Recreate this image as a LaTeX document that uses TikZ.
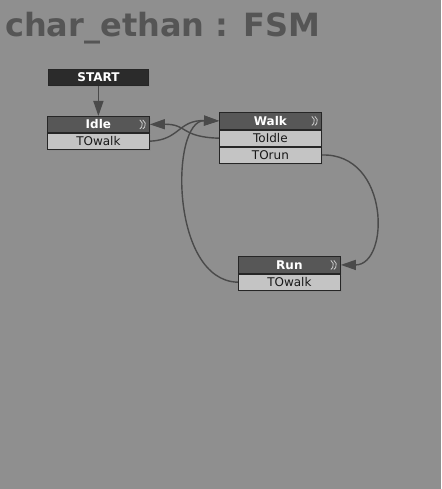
\documentclass[tikz,border=0pt]{standalone}
\usepackage{fontspec}
\setmainfont{DejaVu Sans}
\usetikzlibrary{arrows.meta,positioning,shadows}
\definecolor{bggray}{HTML}{8F8F8F}
\definecolor{titlegray}{HTML}{555555}
\definecolor{hdgray}{HTML}{575757}
\definecolor{rowgray}{HTML}{C4C4C4}
\definecolor{startgray}{HTML}{2B2B2B}
\definecolor{linkgray}{HTML}{4A4A4A}
\begin{document}
\begin{tikzpicture}[x=1pt,y=-1pt,
    box/.style={draw=black!85,line width=0.8pt,minimum width=102pt,inner sep=0pt,
      font=\fontsize{12}{12}\selectfont,
      drop shadow={opacity=0.25,shadow xshift=1.5pt,shadow yshift=-2pt}},
    head/.style={box,fill=hdgray,text=white,minimum height=17pt,font=\fontsize{12}{12}\selectfont\bfseries},
    row/.style={box,fill=rowgray,text=black!90,minimum height=16pt,below=0pt of #1},
    startbox/.style={box,fill=startgray,text=white,minimum width=100pt,minimum height=16pt,
      font=\fontsize{12}{12}\selectfont\bfseries},
    link/.style={draw=linkgray,line width=1.4pt,-{Triangle[length=15pt,width=10pt]}}]
  % background and bounds
  \fill[bggray] (0,0) rectangle (441,489);
  \useasboundingbox (0,0) rectangle (441,489);
  \node[anchor=base west,text=titlegray,inner sep=0pt,
    font=\fontsize{32}{32}\selectfont\bfseries] (title) at (5,37) {char\_ethan : FSM};
  % states
  \node[startbox,anchor=north west] (start) at (48,69) {START};
  \node[head,anchor=north west,minimum height=16pt] (idle) at (47,116) {Idle};
  \node[row=idle] (idle-walk) {TOwalk};
  \node[head,anchor=north west] (walk) at (219,112) {Walk};
  \node[row=walk] (walk-idle) {ToIdle};
  \node[row=walk-idle] (walk-run) {TOrun};
  \node[head,anchor=north west] (run) at (238,256) {Run};
  \node[row=run] (run-walk) {TOwalk};
  % the small marks at the right of each title bar
  \foreach \n in {idle,walk,run}{
    \draw[black!20,line width=0.8pt] ([xshift=-10pt,yshift=4.5pt]\n.east) arc[start angle=60,end angle=-60,radius=5.2pt];
    \draw[black!20,line width=0.8pt] ([xshift=-7pt,yshift=4.5pt]\n.east) arc[start angle=60,end angle=-60,radius=5.2pt];
  }
  % transitions
  \draw[link] (start) -- (idle);
  \draw[link] (idle-walk.east) .. controls (180,140) and (178,120) .. (walk.west);
  \draw[link] (walk-idle.west) .. controls (180,137) and (188,124) .. (idle.east);
  \draw[link] (run-walk.west) .. controls (170,281) and (170,120) .. (walk.west);
  \draw[link] (walk-run.east) .. controls (390,153) and (390,265) .. (run.east);
\end{tikzpicture}
\end{document}
